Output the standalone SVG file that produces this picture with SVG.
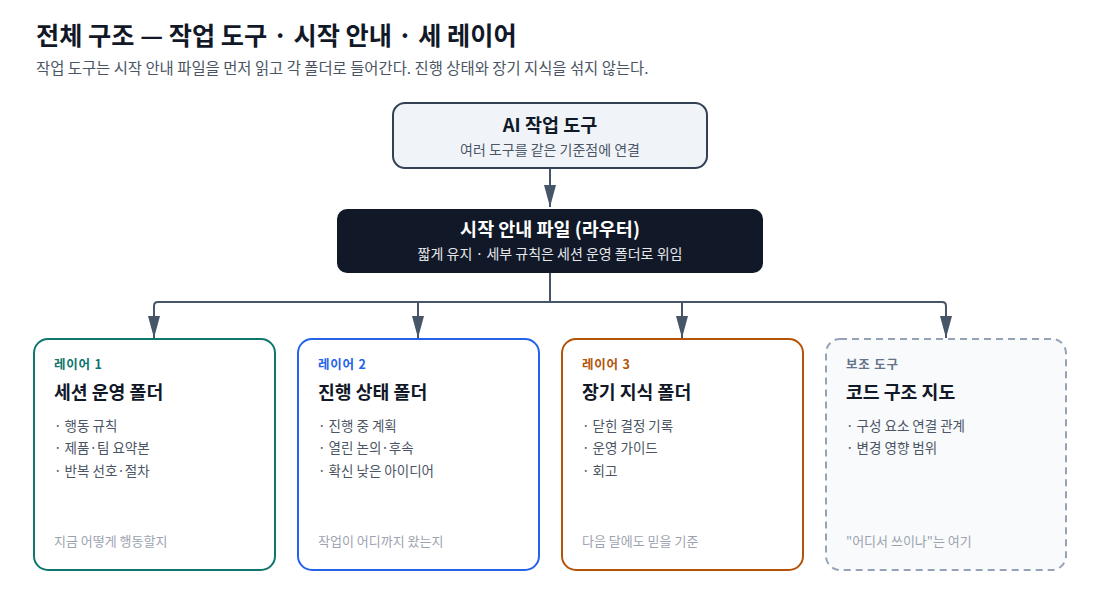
<svg xmlns="http://www.w3.org/2000/svg" width="1100" height="606" viewBox="0 0 1100 606">
<defs>
<marker id="arr" viewBox="0 0 22 14" refX="22" refY="7" markerWidth="22" markerHeight="14" markerUnits="userSpaceOnUse" orient="auto">
<path d="M0,1 L22,7 L0,13 Z" fill="#475569"/>
</marker>
<style>
text{font-family:"Noto Sans CJK KR","Noto Sans",sans-serif}
.h1{font-size:25.2px;font-weight:700;fill:#111827}
.sub{font-size:15.4px;fill:#4b5563}
.nt{font-size:18.5px;font-weight:700;text-anchor:middle}
.ns{font-size:14px;text-anchor:middle}
.lbl{font-size:12.5px;font-weight:700;letter-spacing:0.8px}
.ct{font-size:18.3px;font-weight:700;fill:#111827}
.bl{font-size:13.5px;fill:#4b5563}
.ft{font-size:13px;fill:#9ca3af}
.card{fill:#ffffff;stroke-width:2}
.edge{fill:none;stroke:#475569;stroke-width:2}
</style>
</defs>
<rect width="1100" height="606" fill="#ffffff"/>
<text class="h1" x="36" y="45">전체 구조 — 작업 도구 · 시작 안내 · 세 레이어</text>
<text class="sub" x="36" y="74">작업 도구는 시작 안내 파일을 먼저 읽고 각 폴더로 들어간다. 진행 상태와 장기 지식을 섞지 않는다.</text>

<g id="connectors">
<path class="edge" d="M550,169 V207" marker-end="url(#arr)"/>
<path class="edge" d="M550,273 V302"/>
<path class="edge" d="M158,302 H942"/>
<path class="edge" d="M158,302 Q154,302 154,306 V338" marker-end="url(#arr)"/>
<path class="edge" d="M418,302 V338" marker-end="url(#arr)"/>
<path class="edge" d="M682,302 V338" marker-end="url(#arr)"/>
<path class="edge" d="M942,302 Q946,302 946,306 V338" marker-end="url(#arr)"/>
</g>

<g id="node-tool">
<rect x="393" y="103" width="314" height="65" rx="12" fill="#f0f4f9" stroke="#334155" stroke-width="2"/>
<text class="nt" x="550" y="132" fill="#111827">AI 작업 도구</text>
<text class="ns" x="550" y="155" fill="#4b5563">여러 도구를 같은 기준점에 연결</text>
</g>

<g id="node-router">
<rect x="337" y="209" width="426" height="64" rx="10" fill="#111827"/>
<text class="nt" x="550" y="236" fill="#ffffff">시작 안내 파일 (라우터)</text>
<text class="ns" x="550" y="259" fill="#e5e7eb">짧게 유지 · 세부 규칙은 세션 운영 폴더로 위임</text>
</g>

<g id="node-layer1">
<rect class="card" x="34" y="339" width="241" height="231" rx="14" stroke="#0f766e"/>
<text class="lbl" x="54" y="369" fill="#0f766e">레이어 1</text>
<text class="ct" x="54" y="399">세션 운영 폴더</text>
<text class="bl" x="54" y="431">· 행동 규칙</text>
<text class="bl" x="54" y="453">· 제품·팀 요약본</text>
<text class="bl" x="54" y="476">· 반복 선호·절차</text>
<text class="ft" x="54" y="546">지금 어떻게 행동할지</text>
</g>

<g id="node-layer2">
<rect class="card" x="298" y="339" width="241" height="231" rx="14" stroke="#2563eb"/>
<text class="lbl" x="318" y="369" fill="#2563eb">레이어 2</text>
<text class="ct" x="318" y="399">진행 상태 폴더</text>
<text class="bl" x="318" y="431">· 진행 중 계획</text>
<text class="bl" x="318" y="453">· 열린 논의·후속</text>
<text class="bl" x="318" y="476">· 확신 낮은 아이디어</text>
<text class="ft" x="318" y="546">작업이 어디까지 왔는지</text>
</g>

<g id="node-layer3">
<rect class="card" x="562" y="339" width="241" height="231" rx="14" stroke="#b45309"/>
<text class="lbl" x="582" y="369" fill="#b45309">레이어 3</text>
<text class="ct" x="582" y="399">장기 지식 폴더</text>
<text class="bl" x="582" y="431">· 닫힌 결정 기록</text>
<text class="bl" x="582" y="453">· 운영 가이드</text>
<text class="bl" x="582" y="476">· 회고</text>
<text class="ft" x="582" y="546">다음 달에도 믿을 기준</text>
</g>

<g id="node-codemap">
<rect x="826" y="339" width="240" height="231" rx="14" fill="#f8fafc" stroke="#94a3b8" stroke-width="2" stroke-dasharray="7 5"/>
<text class="lbl" x="846" y="369" fill="#64748b">보조 도구</text>
<text class="ct" x="846" y="399">코드 구조 지도</text>
<text class="bl" x="846" y="431">· 구성 요소 연결 관계</text>
<text class="bl" x="846" y="453">· 변경 영향 범위</text>
<text class="ft" x="846" y="546">"어디서 쓰이나"는 여기</text>
</g>
</svg>
